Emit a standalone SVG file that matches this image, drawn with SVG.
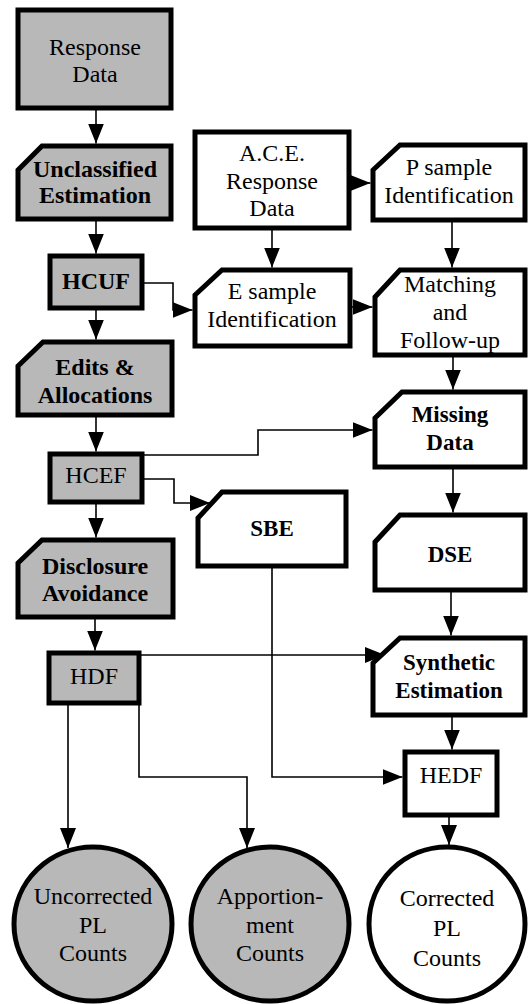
<svg xmlns="http://www.w3.org/2000/svg" width="530" height="1004" viewBox="0 0 530 1004">
<style>
  .box { stroke: #000; stroke-width: 5; stroke-linejoin: miter; }
  .shaded { fill: #b8b8b8; }
  .white { fill: #fff; }
  text { font-family: 'Liberation Serif', 'Times New Roman', serif; font-size: 24px; fill: #000; text-anchor: middle; }
  .b { font-weight: bold; }
  .b23 { font-weight: bold; font-size: 23px; }
  .conn { fill: none; stroke: #000; stroke-width: 1.6; }
</style>
<defs>
  <marker id="arr" markerUnits="userSpaceOnUse" viewBox="0 0 20 16" refX="20" refY="8" markerWidth="20" markerHeight="16" orient="auto">
    <path d="M0,0 L20,8 L0,16 Z" fill="#000"/>
  </marker>
</defs>
<rect width="530" height="1004" fill="#fff"/>

<g id="connectors" class="conn" marker-end="url(#arr)">
  <path d="M96,108 V143.5"/>
  <path d="M96,219 V253.5"/>
  <path d="M96,308 V339.5"/>
  <path d="M96,415 V451.5"/>
  <path d="M96,502 V537.5"/>
  <path d="M95,617 V650.5"/>
  <path d="M142,283 H173 V310 H192.5"/>
  <path d="M272,228 V267.5"/>
  <path d="M349,183 H370.5"/>
  <path d="M452,220 V267.5"/>
  <path d="M350,307 H372.5"/>
  <path d="M453,355 V389.5"/>
  <path d="M142,455 H258 V430 H372.5"/>
  <path d="M142,479 H174 V503 H210"/>
  <path d="M453,467 V512.5"/>
  <path d="M451,590 V635.5"/>
  <path d="M139,655 H385"/>
  <path d="M272,566 V777 H402.5"/>
  <path d="M452,715 V749.5"/>
  <path d="M449,815 V845"/>
  <path d="M68,703 V848"/>
  <path d="M139,703 V777 H247 V848"/>
</g>

<g id="response-data">
  <rect class="box shaded" x="18" y="10" width="153" height="98"/>
  <text x="95" y="55">Response</text>
  <text x="95" y="82">Data</text>
</g>
<g id="unclassified-estimation">
  <path class="box shaded" d="M18,170 L42,146 H171 V219 H18 Z"/>
  <text class="b" x="95" y="177">Unclassified</text>
  <text class="b" x="95" y="203">Estimation</text>
</g>
<g id="hcuf">
  <rect class="box shaded" x="50" y="256" width="92" height="52"/>
  <text class="b" x="96" y="289">HCUF</text>
</g>
<g id="edits-allocations">
  <path class="box shaded" d="M18,366 L43,342 H172 V415 H18 Z"/>
  <text class="b" x="95" y="375">Edits &amp;</text>
  <text class="b" x="95" y="403">Allocations</text>
</g>
<g id="hcef">
  <rect class="box shaded" x="50" y="454" width="92" height="48"/>
  <text x="96" y="483">HCEF</text>
</g>
<g id="disclosure-avoidance">
  <path class="box shaded" d="M18,563 L42,540 H173 V617 H18 Z"/>
  <text class="b" x="95" y="574">Disclosure</text>
  <text class="b" x="95" y="601">Avoidance</text>
</g>
<g id="hdf">
  <rect class="box shaded" x="49" y="653" width="90" height="50"/>
  <text x="94" y="684">HDF</text>
</g>

<g id="ace-response-data">
  <rect class="box white" x="195" y="132" width="154" height="96"/>
  <text x="272" y="161">A.C.E.</text>
  <text x="272" y="189">Response</text>
  <text x="272" y="216">Data</text>
</g>
<g id="p-sample">
  <path class="box white" d="M373,170 L400,145 H525 V220 H373 Z"/>
  <text x="449" y="175">P sample</text>
  <text x="449" y="203">Identification</text>
</g>
<g id="e-sample">
  <path class="box white" d="M195,295 L222,270 H350 V346 H195 Z"/>
  <text x="272" y="299">E sample</text>
  <text x="272" y="327">Identification</text>
</g>
<g id="matching">
  <path class="box white" d="M375,297 L400,270 H525 V355 H375 Z"/>
  <text x="450" y="292">Matching</text>
  <text x="450" y="320">and</text>
  <text x="450" y="348">Follow-up</text>
</g>
<g id="missing-data">
  <path class="box white" d="M375,418 L402,392 H525 V467 H375 Z"/>
  <text class="b23" x="450" y="422">Missing</text>
  <text class="b23" x="450" y="450">Data</text>
</g>
<g id="sbe">
  <path class="box white" d="M198,518 L222,492 H346 V566 H198 Z"/>
  <text class="b23" x="272" y="536">SBE</text>
</g>
<g id="dse">
  <path class="box white" d="M375,542 L400,515 H525 V590 H375 Z"/>
  <text class="b23" x="450" y="562">DSE</text>
</g>
<g id="synthetic-estimation">
  <path class="box white" d="M373,663 L400,638 H525 V715 H373 Z"/>
  <text class="b23" x="449" y="670">Synthetic</text>
  <text class="b23" x="449" y="698">Estimation</text>
</g>
<g id="hedf">
  <rect class="box white" x="405" y="752" width="92" height="63"/>
  <text x="451" y="783">HEDF</text>
</g>

<g id="uncorrected-pl-counts">
  <ellipse class="box shaded" cx="93" cy="924" rx="79" ry="77"/>
  <text x="93" y="904" font-size="25">Uncorrected</text>
  <text x="93" y="933">PL</text>
  <text x="93" y="961">Counts</text>
</g>
<g id="apportionment-counts">
  <ellipse class="box shaded" cx="270" cy="924" rx="79" ry="77"/>
  <text x="270" y="904">Apportion-</text>
  <text x="270" y="933">ment</text>
  <text x="270" y="961">Counts</text>
</g>
<g id="corrected-pl-counts">
  <ellipse class="box white" cx="447" cy="924" rx="78" ry="77"/>
  <text x="447" y="906">Corrected</text>
  <text x="447" y="936">PL</text>
  <text x="447" y="966">Counts</text>
</g>
</svg>
